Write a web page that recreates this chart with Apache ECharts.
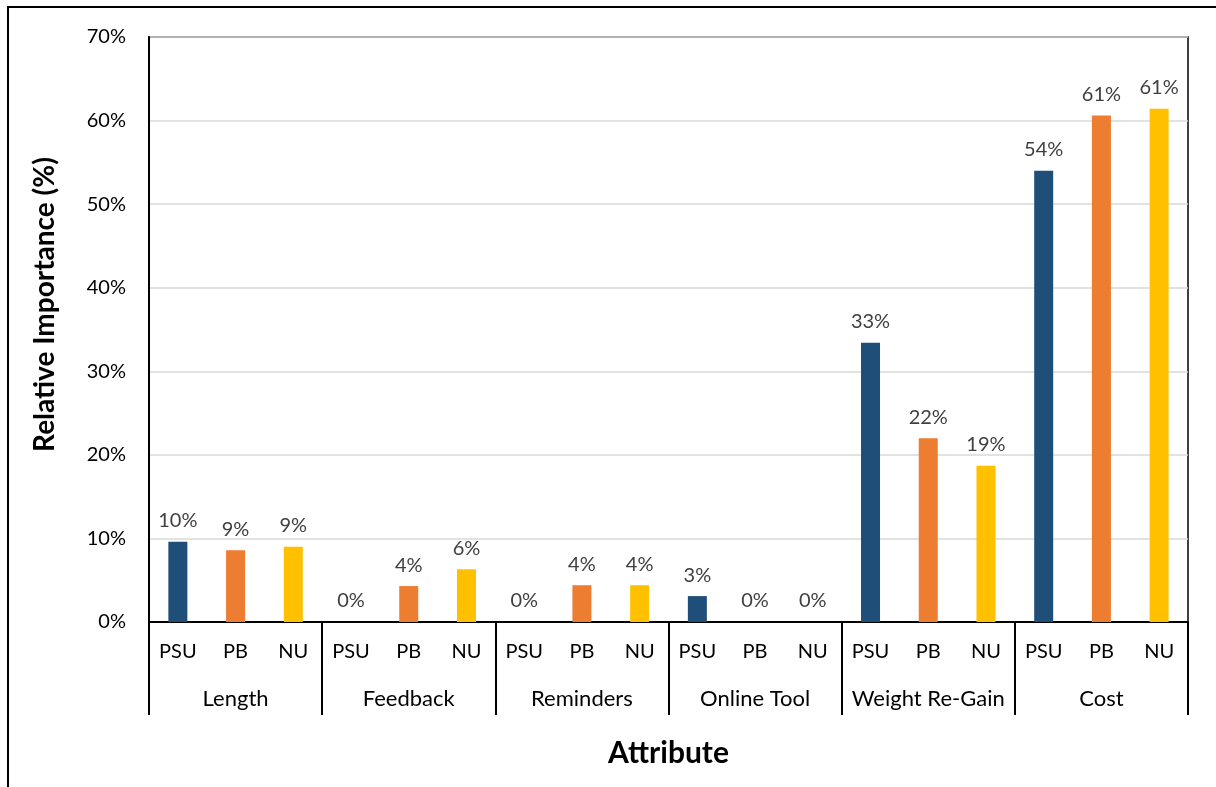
<!DOCTYPE html>
<html>
<head>
<meta charset="utf-8">
<style>
  html, body { margin: 0; padding: 0; background: #fff; }
  #chart { width: 1216px; height: 787px; }
</style>
<script src="https://cdn.jsdelivr.net/npm/echarts@6/dist/echarts.min.js"></script>
</head>
<body>
<div id="chart"></div>
<script>
// Attribute groups and the three samples compared within each group
const attributes = ['Length', 'Feedback', 'Reminders', 'Online Tool', 'Weight Re-Gain', 'Cost'];
const samples = ['PSU', 'PB', 'NU'];

// Relative importance (%) per attribute, one array per sample
const psuValues = [9.6, 0, 0, 3.1, 33.4, 54.0];
const pbValues  = [8.6, 4.3, 4.4, 0, 22.0, 60.6];
const nuValues  = [9.0, 6.3, 4.4, 0, 18.7, 61.4];

// Value axis ticks
const yTicks = { min: 0, max: 70, interval: 10 };

const sampleColors = { PSU: '#1F4E79', PB: '#ED7D31', NU: '#FFC000' };
const FONT = 'Lato, "Open Sans", "Noto Sans", sans-serif';

// Flatten into one category per bar: PSU, PB, NU repeated for each attribute
const valuesBySample = { PSU: psuValues, PB: pbValues, NU: nuValues };
const subCategories = [];
const barData = [];
attributes.forEach((attr, i) => {
  samples.forEach(s => {
    subCategories.push(s);
    barData.push({ value: valuesBySample[s][i], itemStyle: { color: sampleColors[s] } });
  });
});

const chart = echarts.init(document.getElementById('chart'), null, { renderer: 'canvas' });

chart.setOption({
  backgroundColor: '#fff',
  animation: false,
  graphic: [{
    type: 'rect',
    silent: true,
    shape: { x: 8, y: 7, width: 1240, height: 820 },
    style: { fill: 'none', stroke: '#000', lineWidth: 2 },
    z: 100
  }],
  grid: {
    left: 149, top: 37, right: 28, bottom: 165,
    show: true, borderColor: '#000', borderWidth: 1.5,
    containLabel: false
  },
  xAxis: [{
    type: 'category',
    data: subCategories,
    position: 'bottom',
    axisLine: { show: true, lineStyle: { color: '#000', width: 2 } },
    axisTick: { show: false },
    axisLabel: { interval: 0, margin: 20, fontSize: 20, color: '#000', fontFamily: FONT },
    name: 'Attribute',
    nameLocation: 'middle',
    nameGap: 116,
    nameTextStyle: { fontSize: 30, fontWeight: 'bold', color: '#000', fontFamily: FONT },
    splitLine: { show: false }
  }, {
    type: 'category',
    data: attributes,
    position: 'bottom',
    axisLine: { show: false },
    axisTick: { show: true, length: 93, lineStyle: { color: '#000', width: 2 } },
    axisLabel: { interval: 0, margin: 66, fontSize: 22, color: '#000', fontFamily: FONT },
    splitLine: { show: false }
  }],
  yAxis: {
    type: 'value',
    min: yTicks.min, max: yTicks.max, interval: yTicks.interval,
    axisLine: { show: true, lineStyle: { color: '#000', width: 2 } },
    axisTick: { show: false },
    axisLabel: { formatter: '{value}%', margin: 23, fontSize: 20, color: '#000', fontFamily: FONT },
    splitLine: { show: true, lineStyle: { color: '#d9d9d9', width: 1.5 } },
    name: 'Relative Importance (%)',
    nameLocation: 'middle',
    nameRotate: 90,
    nameGap: 90,
    nameTextStyle: { fontSize: 28, fontWeight: 'bold', color: '#000', fontFamily: FONT, padding: [0, 0, 0, 50] }
  },
  series: [{
    type: 'bar',
    xAxisIndex: 0,
    data: barData,
    barWidth: 19,
    label: {
      show: true,
      position: 'top',
      distance: 11,
      fontSize: 20,
      color: '#404040',
      fontFamily: FONT,
      formatter: p => Math.round(p.value) + '%'
    }
  }]
});
</script>
</body>
</html>
